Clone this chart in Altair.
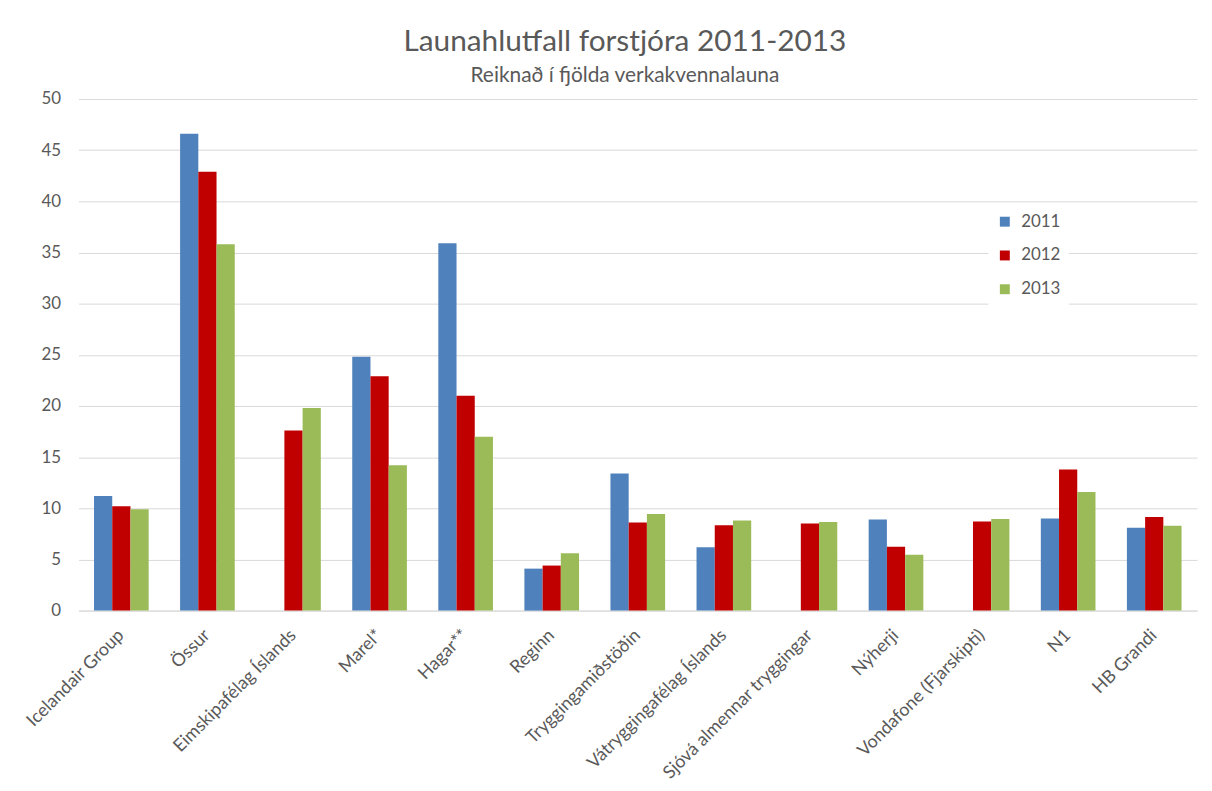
import altair as alt
import pandas as pd

categories = [
    "Icelandair Group", "Össur", "Eimskipafélag Íslands", "Marel*", "Hagar**",
    "Reginn", "Tryggingamiðstöðin", "Vátryggingafélag Íslands",
    "Sjóvá almennar tryggingar", "Nýherji", "Vondafone (Fjarskipti)", "N1", "HB Grandi",
]
years = ["2011", "2012", "2013"]
v2011 = [11.2, 46.6, None, 24.8, 35.9, 4.1, 13.4, 6.2, None, 8.9, None, 9.0, 8.1]
v2012 = [10.2, 42.9, 17.6, 22.9, 21.0, 4.4, 8.6, 8.35, 8.5, 6.25, 8.7, 13.8, 9.15]
v2013 = [9.9, 35.8, 19.8, 14.2, 17.0, 5.6, 9.45, 8.8, 8.65, 5.45, 8.95, 11.6, 8.3]
colors = ["#4F81BD", "#C00000", "#9BBB59"]

rows = []
for yr, vals in zip(years, [v2011, v2012, v2013]):
    for c, v in zip(categories, vals):
        rows.append({"Fyrirtæki": c, "Ár": yr, "Gildi": v})
df = pd.DataFrame(rows)

FONT = "Lato"
GRAY = "#595959"

chart = (
    alt.Chart(df)
    .mark_bar()
    .encode(
        x=alt.X(
            "Fyrirtæki:N",
            sort=categories,
            scale=alt.Scale(paddingInner=0.365, paddingOuter=0.18),
            axis=alt.Axis(
                title=None, labelAngle=-45, labelAlign="right", labelBaseline="middle",
                labelPadding=22, labelFontSize=18, labelColor=GRAY, labelFont=FONT,
                ticks=False, domainColor="#D9D9D9", labelLimit=400,
            ),
        ),
        xOffset=alt.XOffset("Ár:N", scale=alt.Scale(domain=years, paddingInner=0, paddingOuter=0)),
        y=alt.Y(
            "Gildi:Q",
            scale=alt.Scale(domain=[0, 50]),
            axis=alt.Axis(
                title=None, values=list(range(0, 51, 5)), domain=False, ticks=False,
                gridColor="#D9D9D9", labelPadding=18, labelFontSize=17,
                labelColor=GRAY, labelFont=FONT,
            ),
        ),
        color=alt.Color(
            "Ár:N",
            scale=alt.Scale(domain=years, range=colors),
            legend=alt.Legend(
                title=None, orient="none", legendX=916, legendY=107,
                symbolType="square", symbolSize=100, symbolStrokeWidth=0,
                labelFontSize=17, labelFont=FONT, labelColor=GRAY, labelOffset=8,
                rowPadding=16, fillColor="white", padding=8,
            ),
        ),
    )
    .properties(
        width=1126,
        height=515,
        title=alt.TitleParams(
            text="Launahlutfall forstjóra 2011-2013",
            subtitle="Reiknað í fjölda verkakvennalauna",
            font=FONT, fontSize=30, fontWeight="normal", color=GRAY,
            subtitleFont=FONT, subtitleFontSize=21, subtitleColor=GRAY,
            subtitlePadding=8, anchor="middle", offset=4, dx=-13,
        ),
        autosize=alt.AutoSizeParams(type="none"),
        padding={"left": 71, "top": 89, "right": 7, "bottom": 178},
    )
    .configure_view(stroke=None)
)

chart.save("out.html", embed_options={"renderer": "svg", "actions": False})
